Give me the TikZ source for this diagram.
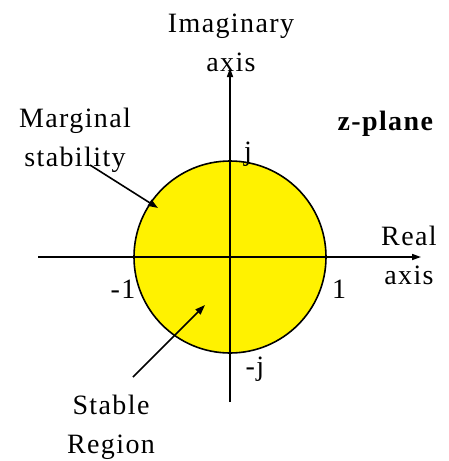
\documentclass[tikz,border=0pt]{standalone}
\usepackage{fontspec}
\setmainfont{Liberation Serif}[LetterSpace=5]
\usetikzlibrary{arrows.meta}

\begin{document}
\begin{tikzpicture}[x=1pt, y=-1pt,
    font=\fontsize{28}{39}\selectfont,
    lbl/.style={inner sep=0pt, anchor=base, align=center},
    ax/.style={line width=1.6pt, -{Triangle[length=9pt, width=6pt]}},
    ptr/.style={line width=1.6pt, -{Triangle[length=10pt, width=7pt]}},
  ]
    \useasboundingbox (0,0) rectangle (448,461);

    % unit circle
    \node[circle, draw, line width=1.6pt, fill=yellow, minimum size=192pt,
          inner sep=0pt] (disk) at (230,257) {};

    % axes
    \coordinate (xl) at (38,257);
    \coordinate (xr) at (421,257);
    \coordinate (yb) at (230,402);
    \coordinate (yt) at (230,68);
    \draw[ax] (xl) -- (xr);
    \draw[ax] (yb) -- (yt);

    \node[lbl] (imag)  at (231,71)  {Imaginary\\axis};
    \node[lbl] (real)  at (409,284) {Real\\axis};
    \node[lbl] (plane) at (386,130) {\textbf{z-plane}};
    \node[lbl] (pj)    at (248,160) {j};
    \node[lbl] (mj)    at (255,375) {-j};
    \node[lbl] (mone)  at (123,298) {-1};
    \node[lbl] (one)   at (339,298) {1};
    \node[lbl] (marg)  at (75,166)  {Marginal\\stability};
    \node[lbl] (stab)  at (111,453) {Stable\\Region};

    % pointers
    \coordinate (m0) at (90,165);
    \coordinate (m1) at (158,208);
    \coordinate (s0) at (133,377);
    \coordinate (s1) at (205,305);
    \draw[ptr] (m0) -- (m1);
    \draw[ptr] (s0) -- (s1);
  \end{tikzpicture}
\end{document}
